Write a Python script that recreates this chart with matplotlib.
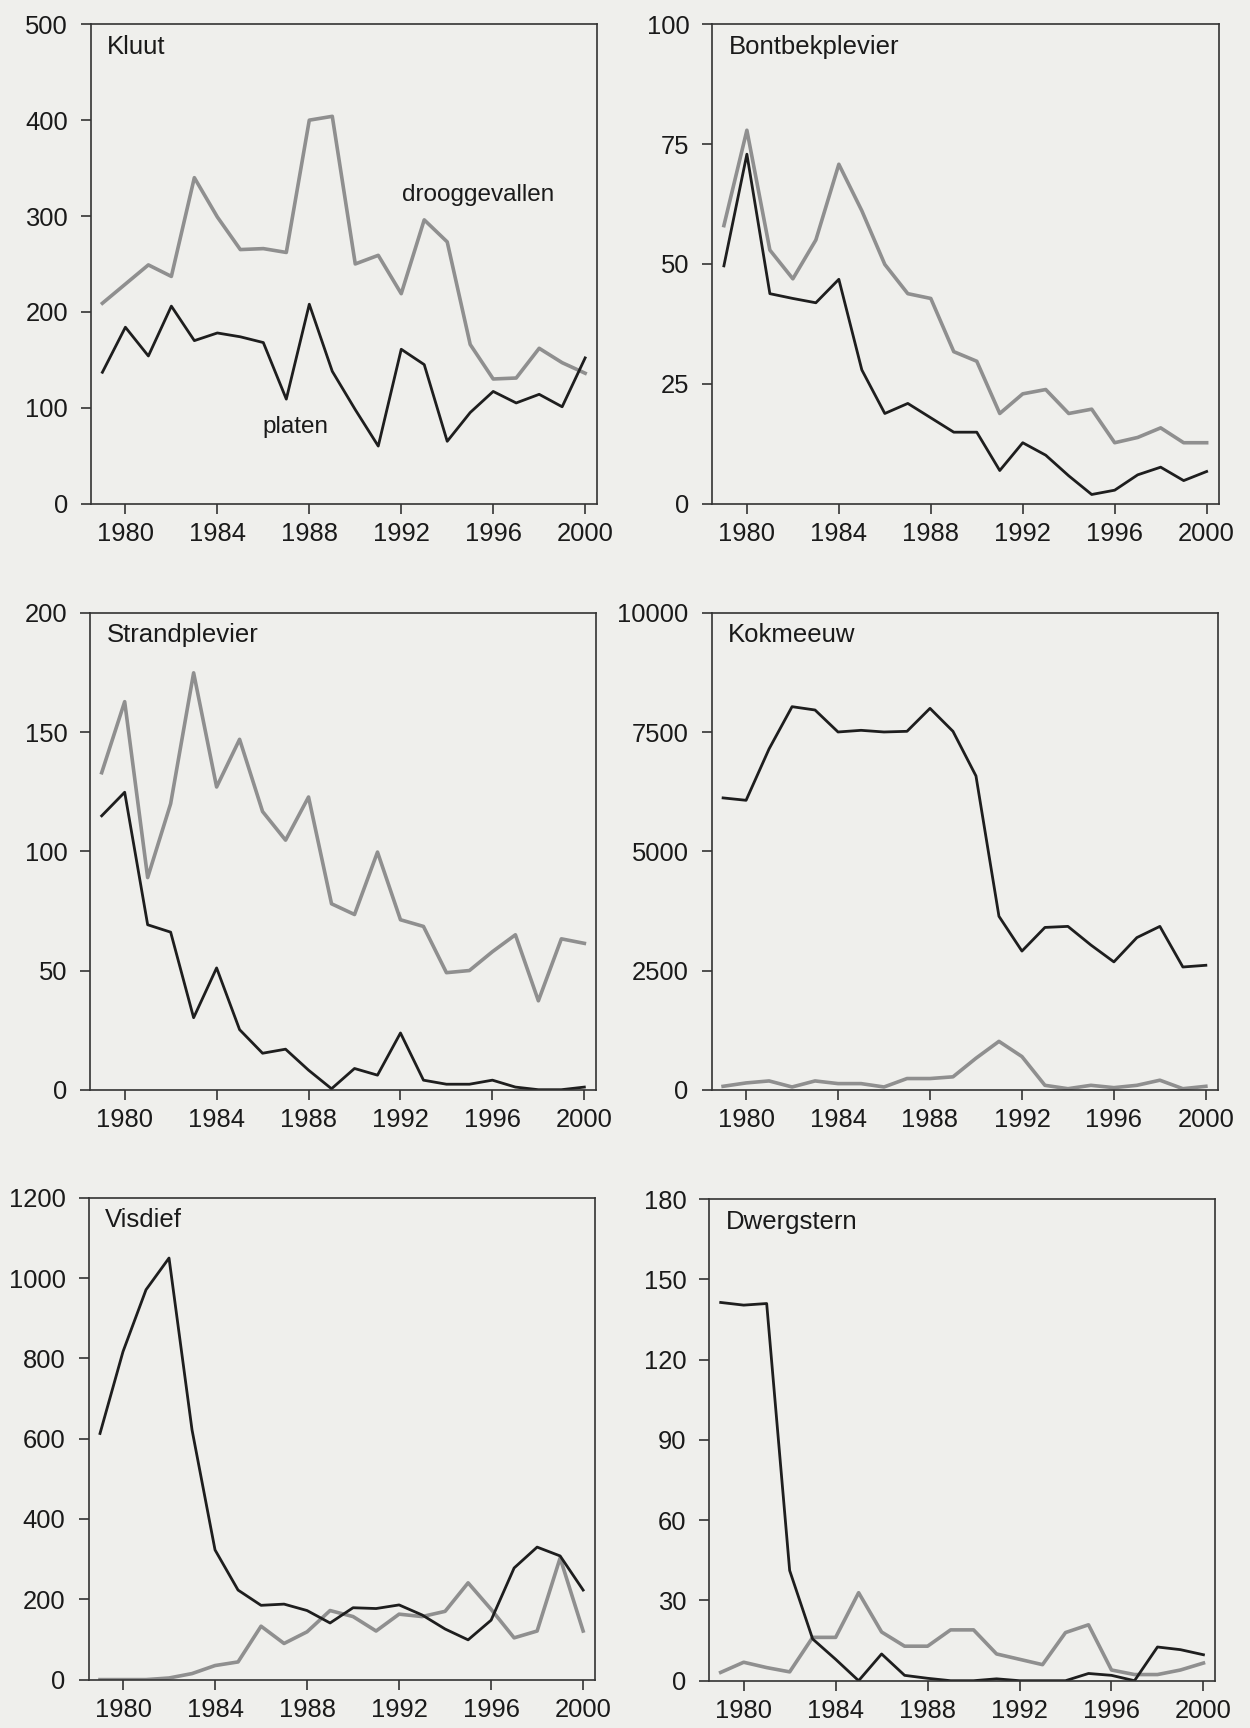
import matplotlib
matplotlib.use("Agg")
import matplotlib.pyplot as plt

plt.rcParams['font.family'] = ['Liberation Sans', 'DejaVu Sans']

years = list(range(1979, 2001))

# Kluut
kluut_platen = [137, 184, 154, 206, 170, 178, 174, 168, 109, 208, 138, 98, 60, 161, 145, 65, 95, 117, 105, 114, 101, 152]
kluut_droog = [209, 229, 249, 237, 340, 299, 265, 266, 262, 400, 404, 250, 259, 219, 296, 273, 166, 130, 131, 162, 147, 136]

# Bontbekplevier
bont_platen = [49.6, 72.9, 43.8, 42.8, 41.9, 46.8, 27.9, 18.8, 20.9, 17.9, 14.9, 14.9, 6.9, 12.7, 10.1, 5.8, 1.9, 2.8, 6.0, 7.6, 4.8, 6.7]
bont_droog = [58, 77.9, 52.9, 46.9, 55, 70.8, 61.1, 49.9, 43.8, 42.8, 31.7, 29.7, 18.8, 22.9, 23.8, 18.8, 19.7, 12.7, 13.8, 15.8, 12.7, 12.7]

# Strandplevier
strand_platen = [114.9, 124.8, 69.2, 66.1, 30.2, 51.1, 25.2, 15.3, 17.0, 8.2, 0.4, 8.9, 6.1, 23.8, 4.0, 2.3, 2.3, 4.0, 1.1, 0, 0, 1.1]
strand_droog = [133, 162.8, 89, 120, 174.9, 127, 147, 116.7, 104.7, 122.8, 78, 73.5, 99.7, 71.3, 68.5, 49.1, 50, 57.9, 65, 37.3, 63.3, 61.4]

# Kokmeeuw
kok_platen = [6121, 6071, 7149, 8035, 7965, 7504, 7539, 7504, 7518, 8000, 7518, 6582, 3638, 2908, 3404, 3426, 3035, 2681, 3191, 3426, 2574, 2610]
kok_droog = [71, 142, 184, 57, 184, 128, 128, 57, 234, 234, 270, 660, 1014, 695, 92, 21, 92, 43, 92, 199, 21, 71]

# Visdief
vis_platen = [613, 817, 971, 1050, 622, 323, 223, 185, 188, 172, 141, 179, 177, 186, 161, 126, 99, 148, 278, 330, 308, 223]
vis_droog = [0, 0, 0, 4, 15, 35, 44, 133, 90, 119, 172, 157, 121, 163, 157, 170, 241, 175, 104, 121, 303, 121]

# Dwergstern
dwerg_platen = [141.4, 140.4, 141, 41.2, 15.6, 8, 0, 10, 2, 0.9, 0, 0, 0.7, 0, 0, 0, 2.7, 2, 0, 12.6, 11.6, 9.7]
dwerg_droog = [3.1, 6.9, 4.9, 3.3, 16.2, 16.2, 32.9, 18.2, 12.9, 12.9, 19, 19, 10, 8, 6, 18, 20.9, 4, 2.3, 2.3, 4, 6.6]

panels = [
    ("Kluut", kluut_platen, kluut_droog, [0, 100, 200, 300, 400, 500]),
    ("Bontbekplevier", bont_platen, bont_droog, [0, 25, 50, 75, 100]),
    ("Strandplevier", strand_platen, strand_droog, [0, 50, 100, 150, 200]),
    ("Kokmeeuw", kok_platen, kok_droog, [0, 2500, 5000, 7500, 10000]),
    ("Visdief", vis_platen, vis_droog, [0, 200, 400, 600, 800, 1000, 1200]),
    ("Dwergstern", dwerg_platen, dwerg_droog, [0, 30, 60, 90, 120, 150, 180]),
]

xticks = [1980, 1984, 1988, 1992, 1996, 2000]

W, H = 1250, 1728
bg = '#efefec'
fig = plt.figure(figsize=(W / 100, H / 100), dpi=100, facecolor=bg)

# pixel boxes (left, right, top, bottom) measured on the reference
boxes = [
    (90.9, 597.1, 24.3, 503.6),
    (712.4, 1218.6, 24.3, 503.6),
    (90.2, 596.3, 613.0, 1089.7),
    (711.6, 1217.8, 613.0, 1089.7),
    (88.5, 595.1, 1197.8, 1679.6),
    (709.2, 1215.4, 1199.2, 1680.7),
]

for i, (name, platen, droog, yt) in enumerate(panels):
    x0, x1, y0, y1 = boxes[i]
    ax = fig.add_axes([x0 / W, 1 - y1 / H, (x1 - x0) / W, (y1 - y0) / H])
    ax.set_facecolor(bg)
    ax.plot(years, droog, color='#8f8f8f', lw=2.6)
    ax.plot(years, platen, color='#1e1e1e', lw=2.0)
    ax.set_xlim(1978.5, 2000.52)
    ax.set_ylim(yt[0], yt[-1])
    ax.set_xticks(xticks)
    ax.set_yticks(yt)
    ax.tick_params(axis='both', direction='out', length=7.5, width=1.2,
                   color='#333333', labelsize=18.4, labelcolor='#1a1a1a')
    ax.tick_params(axis='y', pad=9)
    ax.tick_params(axis='x', pad=5.5)
    for s in ax.spines.values():
        s.set_linewidth(1.2)
        s.set_color('#333333')
    ax.text(0.032, 0.953, name, transform=ax.transAxes, ha='left', va='center',
            fontsize=18.5, color='#1a1a1a')
    if name == "Kluut":
        ax.text(1995.36, 322, "drooggevallen", ha='center', va='center',
                fontsize=17.5, color='#1a1a1a')
        ax.text(1987.4, 80, "platen", ha='center', va='center',
                fontsize=17.5, color='#1a1a1a')

fig.savefig("out.png", dpi=100, facecolor=bg)
